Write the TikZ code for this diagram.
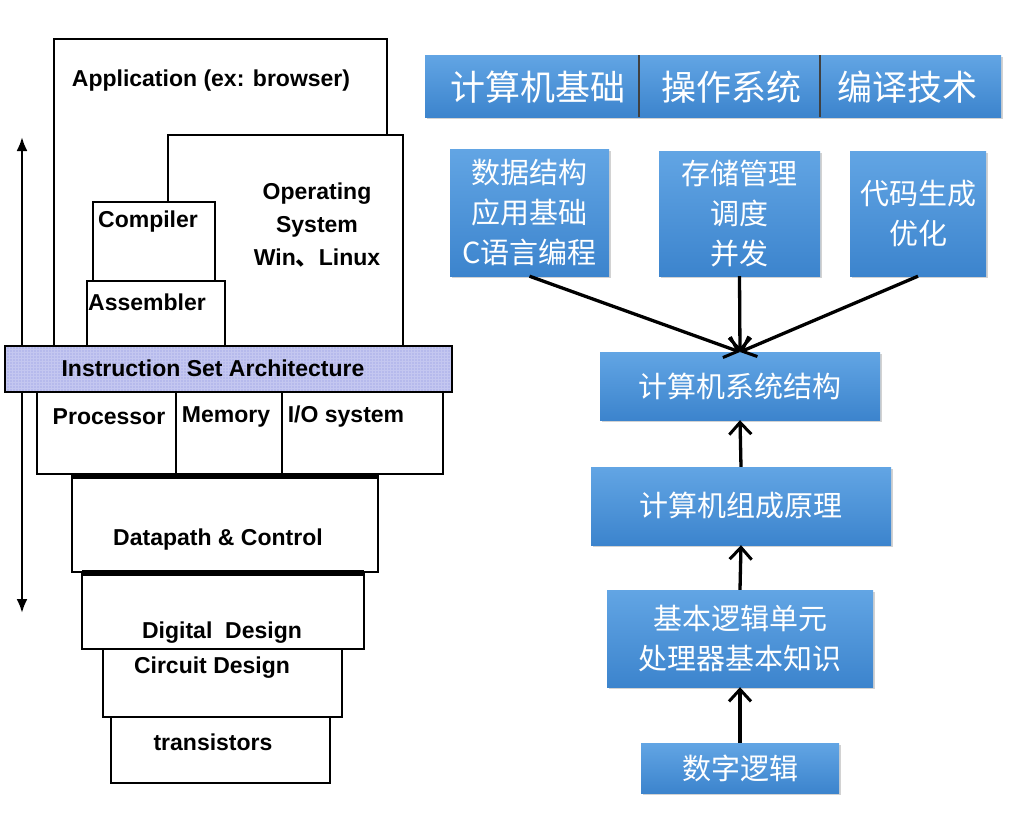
\documentclass[tikz,border=0pt]{standalone}
\usepackage{fontspec}
\setmainfont{Liberation Sans}
\newfontfamily\cjk{Noto Sans CJK SC}
\usetikzlibrary{arrows.meta,shadows,patterns}
\definecolor{boxtop}{RGB}{98,165,228}
\definecolor{boxbot}{RGB}{60,132,205}
\definecolor{isafill}{RGB}{182,186,236}
\definecolor{isagrid}{RGB}{196,199,240}
\tikzset{
  layer/.style={draw=black,line width=2.6pt,fill=white},
  lbl/.style={font=\bfseries\fontsize{23}{33}\selectfont,inner sep=0pt,align=center},
  bluebox/.style={rectangle,top color=boxtop,bottom color=boxbot,draw=none,
    drop shadow={shadow xshift=2pt,shadow yshift=-2pt,opacity=0.35},
    text=white,font=\cjk\fontsize{29}{40}\selectfont,align=center,inner sep=0pt},
  toptext/.style={text=white,font=\cjk\fontsize{35}{40}\selectfont,inner sep=0pt},
  conv/.style={line width=3.3pt,-{Straight Barb[length=12pt,width=22pt,line width=3pt]}},
  upar/.style={line width=3.3pt,-{Straight Barb[length=12pt,width=22pt,line width=3pt]}},
}
\begin{document}
\begin{tikzpicture}[x=1pt,y=-1pt]
\useasboundingbox (0,0) rectangle (1013,814);
\fill[white] (0,0) rectangle (1013,814);
% ---------- left stack ----------
\coordinate (atop) at (22,137);
\coordinate (abot) at (22,613);
\draw[line width=2.5pt,{Latex[length=14pt,width=11pt]}-{Latex[length=14pt,width=11pt]}] (abot) -- (atop);
\draw[layer,fill=none] (54,346) -- (54,39) -- (387,39) -- (387,135);
\draw[layer,fill=none] (168,202) -- (168,135) -- (403,135) -- (403,346);
\draw[layer] (93,202) rectangle (215,281);
\draw[layer] (87,281) rectangle (225,346);
\fill[isafill] (5,346) rectangle (452,392);
\fill[pattern=grid,pattern color=isagrid] (6,347) rectangle (451,391);
\draw[draw=black,line width=2pt] (5,346) rectangle (452,392);
\draw[layer] (37,392) rectangle (443,474);
\draw[line width=2.6pt] (176,392) -- (176,474) (282,392) -- (282,474);
\draw[layer] (72,476) rectangle (378,572);
\draw[line width=6pt] (72,476) -- (378,476);
\draw[layer] (82,572) rectangle (364,649);
\draw[line width=6pt] (82,573) -- (364,573);
\draw[layer] (103,649) rectangle (342,717);
\draw[layer] (111,717) rectangle (330,783);
\node[lbl] (app) at (211,81) {Application (ex: browser)};
\node[lbl] (os) at (317,225) {Operating\\System\\Win{\cjk 、}Linux};
\node[lbl] (comp) at (148,222) {Compiler};
\node[lbl] (asm) at (147,302) {Assembler};
\node[lbl] (isa) at (213,368) {Instruction Set Architecture};
\node[lbl] (proc) at (109,417) {Processor};
\node[lbl] (mem) at (226,417) {Memory};
\node[lbl] (io) at (346,417) {I/O system};
\node[lbl] (dp) at (218,540) {Datapath \& Control};
\node[lbl] (dd) at (222,633) {Digital\ \ Design};
\node[lbl] (cd) at (212,668) {Circuit Design};
\node[lbl] (tr) at (213,742) {transistors};
% ---------- right chart ----------
\node[bluebox,minimum width=576pt,minimum height=62pt] (bar) at (713,86) {};
\draw[line width=1.2pt,black!75] (639,55) -- (639,117) (820,55) -- (820,117);
\node[toptext] (t1) at (538,87) {计算机基础};
\node[toptext] (t2) at (731,87) {操作系统};
\node[toptext] (t3) at (907,87) {编译技术};
\node[bluebox,minimum width=159pt,minimum height=127pt] (b1) at (529.5,212.5) {数据结构\\应用基础\\C语言编程};
\node[bluebox,minimum width=161pt,minimum height=125pt] (b2) at (739.5,213.5) {存储管理\\调度\\并发};
\node[bluebox,minimum width=136pt,minimum height=125pt] (b3) at (918,213.5) {代码生成\\优化};
\node[bluebox,minimum width=280pt,minimum height=68pt] (sys) at (740,386) {计算机系统结构};
\node[bluebox,minimum width=300pt,minimum height=78pt] (org) at (741,506) {计算机组成原理};
\node[bluebox,minimum width=266pt,minimum height=97pt] (basic) at (740,638.5) {基本逻辑单元\\处理器基本知识};
\node[bluebox,minimum width=198pt,minimum height=50pt] (dl) at (740,768) {数字逻辑};
\coordinate (meet) at (740,352);
\draw[conv] (b1.south) -- (meet);
\draw[conv] (b2.south) -- (meet);
\draw[conv] (b3.south) -- (meet);
\draw[upar] (org.north) -- (sys.south);
\draw[upar] (basic.north) -- (org.south);
\draw[upar] (dl.north) -- (basic.south);
\end{tikzpicture}
\end{document}
